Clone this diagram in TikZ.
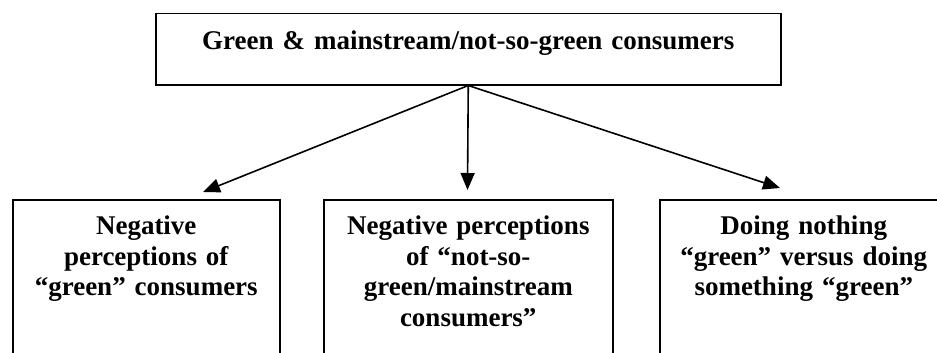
\documentclass[tikz,border=0pt]{standalone}
\usepackage{fontspec}
\setmainfont{Liberation Serif}
\usetikzlibrary{arrows.meta,positioning}
\begin{document}
\begin{tikzpicture}[x=1pt, y=-1pt,
		box/.style = {draw, rectangle, line width=1.5pt, inner sep=0pt, anchor=north west},
		txt/.style = {anchor=base, text width=#1, align=center, inner sep=0pt,
			font=\fontsize{27}{30.7}\selectfont\bfseries},
		arr/.style = {line width=1.6pt, -{Triangle[length=17pt,width=14pt]}}]
	\clip (0,0) rectangle (937,353);
	
	\node[box, minimum width=625pt, minimum height=71pt] (top) at (155,13) {};
	\node[box, minimum width=267pt, minimum height=200pt] (neg) at (12,199) {};
	\node[box, minimum width=289pt, minimum height=200pt] (main) at (323,199) {};
	\node[box, minimum width=288pt, minimum height=200pt] (doing) at (659,199) {};
	
	\node[txt=600pt] (toplabel) at ([yshift=-37pt]top.north) {Green \& mainstream/not-so-green consumers};
	\node[txt=260pt] (neglabel) at ([yshift=-35.5pt]neg.north) {Negative\\perceptions of\\“green” consumers};
	\node[txt=280pt] (mainlabel) at ([yshift=-35.5pt]main.north) {Negative perceptions\\of “not-so-\\green/mainstream\\consumers”};
	\node[txt=280pt] (doinglabel) at ([yshift=-35.5pt]doing.north) {Doing nothing\\“green” versus doing\\something “green”};
	
	\coordinate (negtip) at (203,192);
	\coordinate (maintip) at (467.5,190);
	\coordinate (doingtip) at (780,188);
	
	\draw[arr] (top.south) -- (negtip);
	\draw[arr] (top.south) -- (maintip);
	\draw[arr] (top.south) -- (doingtip);
\end{tikzpicture}
\end{document}
